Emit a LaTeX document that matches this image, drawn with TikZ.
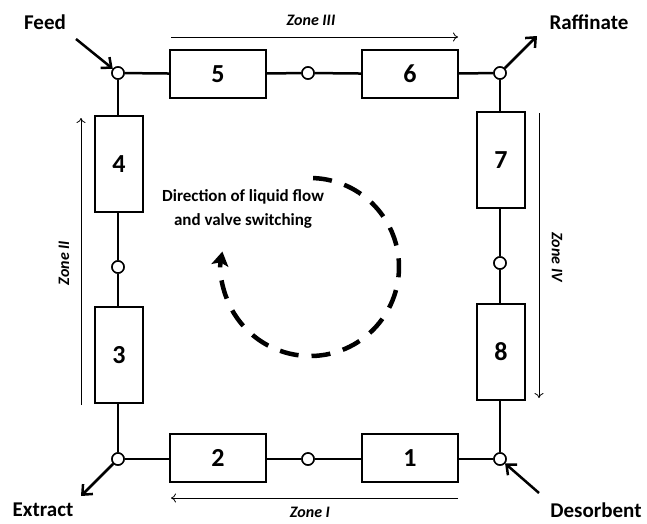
\documentclass[tikz,border=0pt]{standalone}
\usepackage{fontspec}
\setmainfont{Carlito}
\usetikzlibrary{arrows.meta}
\begin{document}
\begin{tikzpicture}[x=1pt,y=-1pt,
  valve/.style={circle,draw,fill=white,line width=1.5pt,minimum size=12pt,inner sep=0pt},
  hbox/.style={draw,line width=1.5pt,minimum width=96pt,minimum height=48pt,inner sep=0pt,font=\bfseries\fontsize{26}{28}\selectfont},
  vbox/.style={draw,line width=1.5pt,minimum width=48pt,minimum height=96pt,inner sep=0pt,font=\bfseries\fontsize{26}{28}\selectfont},
  pipe/.style={line width=2.5pt},
  port/.style={line width=2.5pt,-{Straight Barb[length=8pt,width=14pt,line width=2.5pt]}},
  zone/.style={line width=0.8pt,-{To[length=5pt,width=9pt]}},
  zlabel/.style={font=\bfseries\itshape\fontsize{16}{18}\selectfont},
  plabel/.style={font=\bfseries\fontsize{21}{23}\selectfont}]
\useasboundingbox (0,0) rectangle (647,523);
% valves
\node[valve] (vF) at (118,73) {};
\node[valve] (v56) at (308,73) {};
\node[valve] (vR) at (500,73) {};
\node[valve] (v78) at (500,263) {};
\node[valve] (vD) at (500,459) {};
\node[valve] (v12) at (308,459) {};
\node[valve] (vE) at (118,459) {};
\node[valve] (v34) at (118,267) {};
% columns
\node[hbox] (b5) at (218,74) {5};
\node[hbox] (b6) at (410,74) {6};
\node[vbox] (b7) at (501,160) {7};
\node[vbox] (b8) at (501,352) {8};
\node[hbox] (b1) at (410,458) {1};
\node[hbox] (b2) at (218,458) {2};
\node[vbox] (b3) at (119,355) {3};
\node[vbox] (b4) at (119,164) {4};
% pipes
\draw[pipe] (vF) -- (b5);
\draw[pipe] (b5) -- (v56);
\draw[pipe] (v56) -- (b6);
\draw[pipe] (b6) -- (vR);
\draw[pipe] (vR) -- (b7.north -| vR);
\draw[pipe] (b7.south -| v78) -- (v78);
\draw[pipe] (v78) -- (b8.north -| v78);
\draw[pipe] (b8.south -| vD) -- (vD);
\draw[pipe] (vD) -- (b1.east |- vD);
\draw[pipe] (b1.west |- v12) -- (v12);
\draw[pipe] (v12) -- (b2.east |- v12);
\draw[pipe] (b2.west |- vE) -- (vE);
\draw[pipe] (vE) -- (b3.south -| vE);
\draw[pipe] (b3.north -| v34) -- (v34);
\draw[pipe] (v34) -- (b4.south -| v34);
\draw[pipe] (b4.north -| vF) -- (vF);
% redraw valves on top
\foreach \v in {vF,v56,vR,v78,vD,v12,vE,v34}{\node[valve] at (\v) {};}
% ports
\node[plabel] (feed) at (45,22) {Feed};
\node[plabel] (raf) at (589,22) {Raffinate};
\node[plabel] (ext) at (43,510) {Extract};
\node[plabel] (des) at (596,510) {Desorbent};
\coordinate (cF) at (76,39);
\coordinate (cR) at (537,36);
\coordinate (cE) at (81,496);
\coordinate (cD) at (539,493);
\draw[port] (cF) -- (vF);
\draw[port] (vR) -- (cR);
\draw[port] (vE) -- (cE);
\draw[port] (cD) -- (vD);
% zones
\coordinate (z3a) at (171,37); \coordinate (z3b) at (458,37);
\coordinate (z1a) at (458,498); \coordinate (z1b) at (171,498);
\coordinate (z2a) at (81,405); \coordinate (z2b) at (81,118);
\coordinate (z4a) at (539,113); \coordinate (z4b) at (539,398);
\draw[zone] (z3a) -- (z3b);
\draw[zone] (z1a) -- (z1b);
\draw[zone] (z2a) -- (z2b);
\draw[zone] (z4a) -- (z4b);
\node[zlabel] (l3) at (311,20) {Zone III};
\node[zlabel] (l1) at (310,512) {Zone I};
\node[zlabel,rotate=90] (l2) at (64,263) {Zone II};
\node[zlabel,rotate=-90] (l4) at (557,257) {Zone IV};
% center
\node[font=\bfseries\fontsize{17}{24}\selectfont,align=center] (txt) at (243,209) {Direction of liquid flow\\and valve switching};
\draw[line width=4.5pt,dash pattern=on 19pt off 13pt,-{Stealth[length=14pt,width=17pt,inset=3pt]}]
  (310,267) ++(-88:89) arc[start angle=-88,end angle=190,radius=89];
\end{tikzpicture}
\end{document}
